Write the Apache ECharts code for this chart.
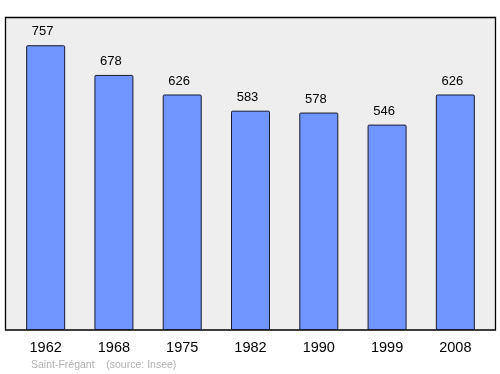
<!DOCTYPE html>
<html><head><meta charset="utf-8">
<script src="https://cdn.jsdelivr.net/npm/echarts@6/dist/echarts.min.js"></script>
<style>html,body{margin:0;padding:0;background:#fff}#c{width:500px;height:374px}</style>
</head><body><div id="c"></div>
<script>
const years = ['1962','1968','1975','1982','1990','1999','2008'];
const population = [757,678,626,583,578,546,626];
const footer = 'Saint-Frégant    (source: Insee)';

const chart = echarts.init(document.getElementById('c'), null, {renderer:'canvas'});
chart.setOption({
  animation:false,
  graphic:[
    {type:'rect', z:0, shape:{x:5.5,y:17.5,width:490,height:312.5}, style:{fill:'#eeeeee',stroke:'#000',lineWidth:1.3}},
    {type:'text', left:31, top:360, style:{text:footer, fill:'#b0b0b0', font:'10.5px "Liberation Sans", Arial, sans-serif'}}
  ],
  grid:{left:11.5, width:478, top:17, bottom:44},
  xAxis:{type:'category', data:years, axisLine:{show:false}, axisTick:{show:false},
    axisLabel:{color:'#000', fontSize:14.5, fontFamily:'"Liberation Sans", Arial, sans-serif', margin:10}},
  yAxis:{type:'value', min:0, max:832, show:false, splitLine:{show:false}},
  series:[{type:'bar', data:population, barWidth:39, z:2,
    itemStyle:{color:'#7095ff', borderColor:'#1a1a2e', borderWidth:1, borderRadius:[1,1,0,0]},
    label:{show:true, position:'top', distance:7, offset:[-3,0], color:'#000', fontSize:13, fontFamily:'"Liberation Sans", Arial, sans-serif'}}]
});
</script></body></html>
